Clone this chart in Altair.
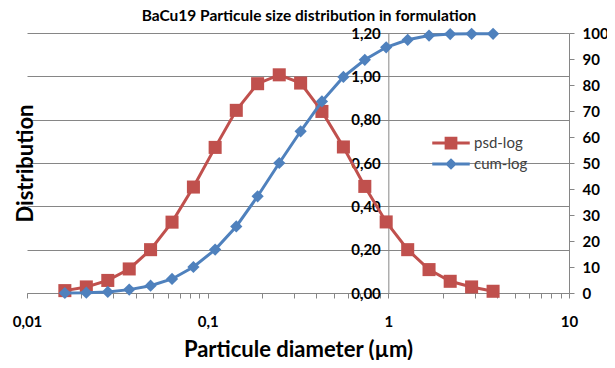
import altair as alt
import pandas as pd

# ---- data ----
diameter = [0.0162, 0.0213, 0.0280, 0.0368, 0.0483, 0.0635, 0.0834, 0.110, 0.144, 0.189,
            0.249, 0.327, 0.429, 0.564, 0.741, 0.973, 1.28, 1.68, 2.20, 2.89, 3.80]
psd_log = [0.011, 0.028, 0.058, 0.111, 0.200, 0.327, 0.489, 0.672, 0.843, 0.966,
           1.007, 0.969, 0.838, 0.674, 0.492, 0.328, 0.200, 0.108, 0.054, 0.028, 0.008]
cum_log = [0.0, 0.1, 0.4, 1.3, 2.8, 5.4, 10.0, 16.7, 25.6, 37.2,
           50.0, 62.2, 73.7, 83.1, 89.7, 94.5, 97.4, 99.0, 99.6, 99.7, 99.7]
series_names = ["psd-log", "cum-log"]
series_colors = ["#C0504D", "#4F81BD"]
x_tick_values = [0.01, 0.02, 0.03, 0.04, 0.05, 0.06, 0.07, 0.08, 0.09,
                 0.1, 0.2, 0.3, 0.4, 0.5, 0.6, 0.7, 0.8, 0.9,
                 1, 2, 3, 4, 5, 6, 7, 8, 9, 10]
left_ticks = [0.0, 0.2, 0.4, 0.6, 0.8, 1.0, 1.2]
right_ticks = [0, 10, 20, 30, 40, 50, 60, 70, 80, 90, 100]
title_text = "BaCu19 Particule size distribution in formulation"
x_title = "Particule diameter (µm)"
y_title = "Distribution"

df = pd.DataFrame({"diameter": diameter, "psd": psd_log, "cum": cum_log})
legend_df = pd.DataFrame({"series": series_names})

FONT = "Lato"
W, H = 542, 260
GRAY = "#868686"
POS1 = W * 2 / 3  # pixel position of x = 1 on a 0.01..10 log axis

x_axis = alt.Axis(
    values=x_tick_values,
    labelExpr="datum.value == 0.01 ? '0,01' : datum.value == 0.1 ? '0,1' : datum.value == 1 ? '1' : datum.value == 10 ? '10' : ''",
    grid=False, tickSize=5, tickColor=GRAY, domainColor=GRAY,
    labelPadding=16, labelFont=FONT, labelFontSize=15, labelFontWeight="bold",
    labelColor="black", labelFlush=False, labelOverlap=False,
    title=x_title, titleFont=FONT, titleFontSize=22, titleFontWeight="bold",
    titleColor="black", titlePadding=10,
)
x_enc = alt.X("diameter:Q", scale=alt.Scale(type="log", domain=[0.01, 10], nice=False), axis=x_axis)

y_left = alt.Y(
    "psd:Q",
    scale=alt.Scale(domain=[0, 1.2], nice=False),
    axis=alt.Axis(
        values=left_ticks,
        labelExpr="replace(format(datum.value, '.2f'), '.', ',')",
        offset=-POS1, grid=True, gridColor=GRAY, ticks=False, domainColor=GRAY,
        labelPadding=8, labelFont=FONT, labelFontSize=15, labelFontWeight="bold",
        labelColor="black",
        title=y_title, titleFont=FONT, titleFontSize=22, titleFontWeight="bold",
        titleColor="black", titleX=-POS1 - 2, titleY=H / 2, titleAngle=-90,
        titleAlign="center", titleBaseline="middle",
    ),
)
y_right = alt.Y(
    "cum:Q",
    scale=alt.Scale(domain=[0, 100], nice=False),
    axis=alt.Axis(
        orient="right", values=right_ticks, format="d", grid=False,
        tickSize=5, tickColor=GRAY, domainColor=GRAY, labelPadding=8,
        labelFont=FONT, labelFontSize=15, labelFontWeight="bold", labelColor="black",
        title=None,
    ),
)

base = alt.Chart(df)
psd_line = base.mark_line(color=series_colors[0], strokeWidth=3).encode(x=x_enc, y=y_left)
psd_pts = base.mark_point(shape="square", filled=True, size=170, color=series_colors[0], opacity=1).encode(x=x_enc, y=y_left)

sq_path = "M-2.5,0H2.5M-0.65,-0.65H0.65V0.65H-0.65Z"
di_path = "M-2.5,0H2.5M0,-0.5L0.5,0L0,0.5L-0.5,0Z"
leg = alt.Legend(
    orient="none", legendX=415, legendY=101, title=None, padding=0,
    symbolSize=225, symbolStrokeWidth=3, labelOffset=14, rowPadding=0,
    labelFont=FONT, labelFontSize=15, labelColor="#404040",
)
legend_layer = alt.Chart(legend_df).transform_filter("false").mark_point(filled=True, opacity=1).encode(
    fill=alt.Fill("series:N", scale=alt.Scale(domain=series_names, range=series_colors), legend=leg),
    stroke=alt.Stroke("series:N", scale=alt.Scale(domain=series_names, range=series_colors), legend=leg),
    shape=alt.Shape("series:N", scale=alt.Scale(domain=series_names, range=[sq_path, di_path]), legend=leg),
)

cum_line = base.mark_line(color=series_colors[1], strokeWidth=3).encode(x=x_enc, y=y_right)
cum_pts = base.mark_point(shape="diamond", filled=True, size=150, color=series_colors[1], opacity=1).encode(x=x_enc, y=y_right)

psd_layer = alt.layer(psd_line, psd_pts, legend_layer)
cum_layer = alt.layer(cum_line, cum_pts)

chart = alt.layer(psd_layer, cum_layer).resolve_scale(y="independent").properties(
    width=W, height=H,
    title=alt.TitleParams(title_text, font=FONT, fontSize=15.5, fontWeight="bold", color="black",
                          anchor="middle", offset=2, dx=11),
    autosize=alt.AutoSizeParams(type="none"),
    padding={"left": 19, "top": 25, "right": 38, "bottom": 67},
).configure_view(stroke=None)

chart.save("out.html", embed_options={"renderer": "svg", "actions": False})
